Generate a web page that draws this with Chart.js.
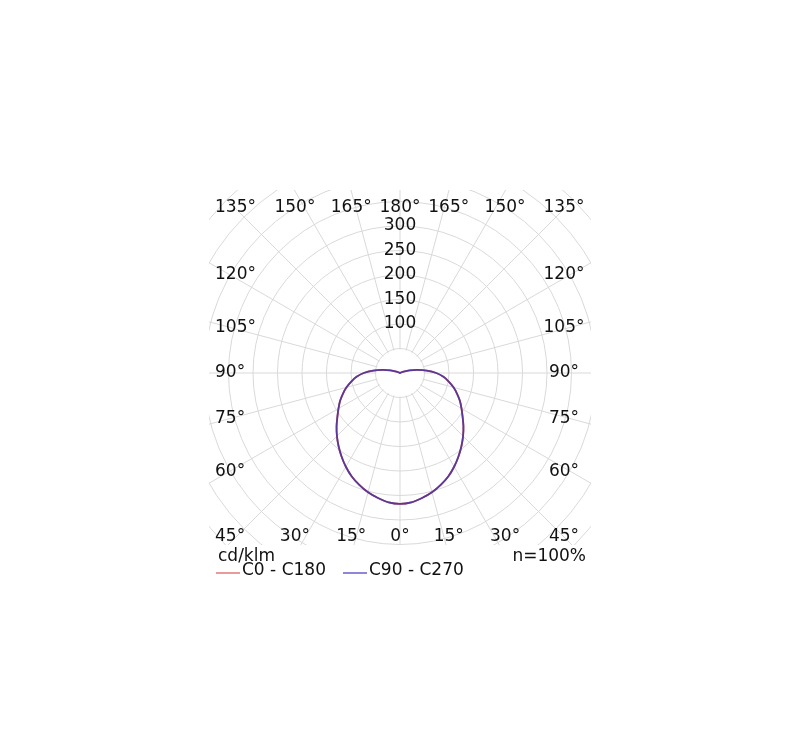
<!DOCTYPE html>
<html>
<head>
<meta charset="utf-8">
<title>Polar diagram</title>
<script src="https://cdn.jsdelivr.net/npm/chart.js@4/dist/chart.umd.min.js"></script>
<style>
  html, body { margin: 0; padding: 0; background: #fff; }
  canvas { display: block; }
</style>
</head>
<body>
<canvas id="c" width="800" height="745"></canvas>
<script>
// gamma angles of the half profile (0 = straight down)
const gamma = [0, 5, 10, 15, 20, 25, 30, 35, 40, 45, 50, 55, 60, 65, 70, 75, 80, 85, 90,
               95, 100, 105, 110, 115, 120, 125, 130, 135, 140, 145, 150, 155, 160, 165, 170, 175, 180];

// cd/klm (both planes lie on top of each other)
const c0c180 = [267, 265, 259, 252, 243, 233, 221, 208, 195, 182, 169, 156, 145, 135, 124, 113, 101, 89, 74,
                55, 36, 20, 8, 2, 0, 0, 0, 0, 0, 0, 0, 0, 0, 0, 0, 0, 0];
const c90c270 = [267, 265, 259, 252, 243, 233, 221, 208, 195, 182, 169, 156, 145, 135, 124, 113, 101, 89, 74,
                 55, 36, 20, 8, 2, 0, 0, 0, 0, 0, 0, 0, 0, 0, 0, 0, 0, 0];

const radialTicks = [100, 150, 200, 250, 300];
const angleMarks = [0, 15, 30, 45, 60, 75, 90, 105, 120, 135, 150, 165, 180];
const unitText = 'cd/klm';
const effText = 'n=100%';

const FONT = '17px "DejaVu Sans", Verdana, sans-serif';
const TEXT = '#111';
const GRID = '#d9d9d9';

// index 0 sits at the top (gamma 180), going clockwise
function gammaAt(i) { return i <= 36 ? 180 - 5 * i : 5 * i - 180; }

const labels = [], dataA = [], dataB = [];
for (let i = 0; i < 72; i++) {
  const k = gamma.indexOf(gammaAt(i));
  labels.push(gammaAt(i) + '°');
  dataA.push(c0c180[k]);
  dataB.push(c90c270[k]);
}

const frame = { left: 209, right: 591, top: 190, bottom: 545 };

const diagramPlugin = {
  id: 'diagram',
  beforeDraw(chart) {
    const ctx = chart.ctx;
    ctx.save();
    ctx.beginPath();
    ctx.rect(frame.left, frame.top, frame.right - frame.left, frame.bottom - frame.top);
    ctx.clip();
  },
  beforeDatasetsDraw(chart) {
    const ctx = chart.ctx;
    ctx.restore();
    // blank the middle, spokes start at the 50 ring
    const s = chart.scales.r;
    ctx.save();
    ctx.fillStyle = '#fff';
    ctx.beginPath();
    ctx.arc(s.xCenter, s.yCenter, s.getDistanceFromCenterForValue(50) - 1, 0, Math.PI * 2);
    ctx.fill();
    ctx.restore();
  },
  afterDraw(chart) {
    const ctx = chart.ctx;
    const s = chart.scales.r;
    ctx.save();
    ctx.font = FONT;
    ctx.fillStyle = TEXT;
    ctx.textBaseline = 'middle';

    // angle labels round a square frame
    for (let i = 0; i < 72; i++) {
      const g = gammaAt(i);
      if (!angleMarks.includes(g)) continue;
      const p = s.getPointPosition(i, 100);
      const dx = p.x - s.xCenter, dy = p.y - s.yCenter;
      let x, y;
      if (Math.abs(dx) >= Math.abs(dy) - 1e-6) {
        const t = 171 / Math.abs(dx);
        y = s.yCenter + Math.max(-165, Math.min(164, dy * t));
        if (dx < 0) { ctx.textAlign = 'left'; x = 215; }
        else { ctx.textAlign = 'center'; x = 564; }
      } else {
        const t = 182 / Math.abs(dy);
        ctx.textAlign = 'center';
        x = s.xCenter + dx * t;
        y = dy < 0 ? 208 : 537;
      }
      ctx.fillText(labels[i], x, y);
    }

    // unit, efficiency and the legend
    ctx.textAlign = 'left';
    ctx.fillText(unitText, 218, 557);
    ctx.textAlign = 'right';
    ctx.fillText(effText, 586, 557);

    const ds = chart.data.datasets;
    const legend = [
      { ds: ds[1], x: 216, line: 'rgb(226,120,120)' },
      { ds: ds[0], x: 343, line: 'rgb(105,95,205)' }
    ];
    ctx.textAlign = 'left';
    ctx.lineWidth = 1.5;
    legend.forEach(l => {
      ctx.strokeStyle = l.line;
      ctx.beginPath();
      ctx.moveTo(l.x, 573);
      ctx.lineTo(l.x + 24, 573);
      ctx.stroke();
      ctx.fillText(l.ds.label, l.x + 26, 571);
    });
    ctx.restore();
  }
};

new Chart(document.getElementById('c'), {
  type: 'radar',
  data: {
    labels: labels,
    datasets: [{
      label: 'C90 - C270',
      data: dataB,
      order: 0,
      borderColor: 'rgba(70,50,165,0.85)',
      borderWidth: 1.8,
      pointRadius: 0,
      fill: false,
      tension: 0.3
    }, {
      label: 'C0 - C180',
      data: dataA,
      order: 1,
      borderColor: 'rgb(210,80,80)',
      borderWidth: 1.8,
      pointRadius: 0,
      fill: false,
      tension: 0.3
    }]
  },
  options: {
    responsive: false,
    animation: false,
    devicePixelRatio: 1,
    layout: { padding: { left: 145, right: 144, top: 118, bottom: 116 } },
    plugins: {
      legend: { display: false },
      tooltip: { enabled: false }
    },
    scales: {
      r: {
        min: 0,
        max: 500,
        startAngle: 0,
        ticks: {
          stepSize: 50,
          showLabelBackdrop: false,
          color: TEXT,
          font: { family: '"DejaVu Sans", Verdana, sans-serif', size: 17 },
          callback: v => radialTicks.includes(v) ? String(v) : ''
        },
        grid: { color: GRID, lineWidth: 1, circular: true },
        angleLines: {
          color: c => angleMarks.includes(gammaAt(c.index)) ? GRID : 'transparent',
          lineWidth: 1
        },
        pointLabels: { display: false }
      }
    }
  },
  plugins: [diagramPlugin]
});
</script>
</body>
</html>
